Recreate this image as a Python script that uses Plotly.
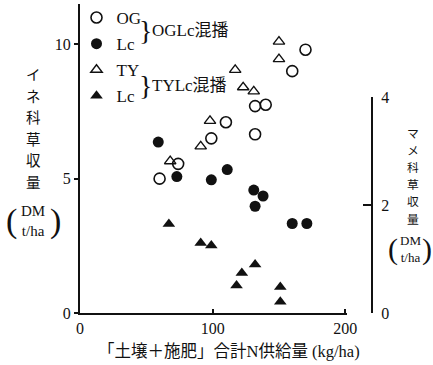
import plotly.graph_objects as go

# OGLc mixed sowing
og_x = [60, 74, 99, 110, 132, 132, 140, 160, 170]
og_y = [5.0, 5.55, 6.5, 7.1, 6.65, 7.7, 7.75, 9.0, 9.8]
lc_og_x = [59, 73, 99, 111, 131, 138, 132, 160, 171]
lc_og_y = [3.17, 2.53, 2.47, 2.66, 2.28, 2.17, 1.98, 1.66, 1.66]
# TYLc mixed sowing
ty_x = [68, 91, 98, 117, 123, 131, 150, 150]
ty_y = [5.65, 6.2, 7.15, 9.05, 8.4, 8.25, 10.1, 9.45]
lc_ty_x = [67, 91, 99, 118, 122, 132, 151, 151]
lc_ty_y = [1.65, 1.3, 1.25, 0.51, 0.74, 0.9, 0.48, 0.21]

x_ticks = [0, 100, 200]
y_ticks = [0, 5, 10]
y2_ticks = [0, 2, 4]

SERIF = "Liberation Serif, Noto Sans CJK JP"
INK = "#111111"

fig = go.Figure()
fig.add_trace(go.Scatter(x=og_x, y=og_y, mode="markers", name="OG", legendgroup="a",
                         marker=dict(symbol="circle-open", size=11, color=INK, line=dict(width=1.6))))
fig.add_trace(go.Scatter(x=lc_og_x, y=lc_og_y, yaxis="y2", mode="markers", name="Lc", legendgroup="b",
                         marker=dict(symbol="circle", size=11, color=INK)))
fig.add_trace(go.Scatter(x=ty_x, y=ty_y, mode="markers", name="TY", legendgroup="c",
                         marker=dict(symbol="triangle-up-open", size=10, color=INK, line=dict(width=1.4))))
fig.add_trace(go.Scatter(x=lc_ty_x, y=lc_ty_y, yaxis="y2", mode="markers", name="Lc", legendgroup="d",
                         marker=dict(symbol="triangle-up", size=11, color=INK)))

fig.update_layout(
    width=433, height=365,
    margin=dict(l=80, r=61, t=4, b=52, autoexpand=False),
    paper_bgcolor="white", plot_bgcolor="rgba(0,0,0,0)",
    font=dict(family=SERIF, size=16, color=INK),
    showlegend=True,
    legend=dict(x=-0.012, y=1.013, xanchor="left", yanchor="top", bgcolor="rgba(0,0,0,0)",
                font=dict(family=SERIF, size=17, color=INK), tracegroupgap=1,
                itemwidth=30),
    xaxis=dict(domain=[0, 0.914], range=[0, 201.2], tickvals=x_ticks, showgrid=False,
               zeroline=False, showline=True, linewidth=2, linecolor=INK, ticks="inside",
               ticklen=4, tickwidth=2, tickcolor=INK, anchor="y",
               tickfont=dict(size=16)),
    yaxis=dict(range=[0, 11.5], tickvals=y_ticks, showgrid=False, zeroline=False, showline=True,
               linewidth=2, linecolor=INK, ticks="outside", ticklen=4, tickwidth=2, tickcolor=INK,
               tickfont=dict(size=16)),
    yaxis2=dict(domain=[0, 0.698], range=[0, 4], tickvals=y2_ticks, side="right", anchor="free",
                position=1, showgrid=False, zeroline=False, showline=True, linewidth=2,
                linecolor=INK, ticks="inside", ticklen=8, tickwidth=2, tickcolor=INK,
                tickfont=dict(size=16), ticklabelstandoff=5),
)

# pixel placements for annotations -> paper fractions
W, H = 433 - 80 - 61, 365 - 4 - 52
def px(xp, yp):
    return (xp - 80) / W, (365 - 52 - yp) / H

out = []
def text(t, xp, yp, size, family=SERIF, xanchor="center", yanchor="middle"):
    x, y = px(xp, yp)
    out.append(dict(text=t, x=x, y=y, xref="paper", yref="paper", showarrow=False,
                    xanchor=xanchor, yanchor=yanchor,
                    font=dict(family=family, size=size, color=INK)))

# braces and group labels
for ymid, label in [(30, "OGLc混播"), (85, "TYLc混播")]:
    text("}", 145, ymid, 28, family="Liberation Serif")
    text(label, 150, ymid + 1, 17, xanchor="left")

def vtext(chars, xp, ytop, size, step):
    for i, c in enumerate(chars):
        text(c, xp, ytop + i * step, size, family="Noto Sans CJK JP")

def unit(xc, yc, size, psize, half):
    text("DM<br>t/ha", xc, yc, size, family="Liberation Serif")
    text("(", xc - half, yc, psize, family="Liberation Serif")
    text(")", xc + half, yc, psize, family="Liberation Serif")

# left axis title (vertical)
vtext("イネ科草収量", 33, 74, 14.5, 21.4)
unit(33, 221, 15, 34, 22)
# right axis title (vertical)
vtext("マメ科草収量", 413, 132, 11.8, 17.2)
unit(410, 249, 13, 30, 17)

# x-axis title
text("「土壌＋施肥」合計N供給量 (kg/ha)", 229, 351, 16.5)

fig.update_layout(annotations=out)
fig.write_html("out.html")
